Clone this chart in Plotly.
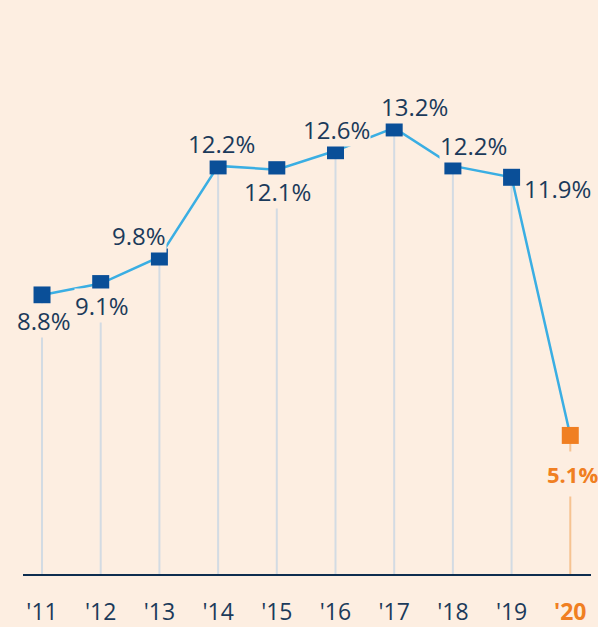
import plotly.graph_objects as go

years = [11, 12, 13, 14, 15, 16, 17, 18, 19, 20]
tick_labels = ["'11", "'12", "'13", "'14", "'15", "'16", "'17", "'18", "'19", "'20"]
values = [8.8, 9.1, 9.8, 12.2, 12.1, 12.6, 13.2, 12.2, 11.9, 5.1]
value_labels = ["8.8%", "9.1%", "9.8%", "12.2%", "12.1%", "12.6%", "13.2%", "12.2%", "11.9%", "5.1%"]
# label offsets (pixels) relative to each marker
label_dx = [2, 1, -20, 3, 1, 1, 20, 21, 46, 2]
label_dy = [-26, -22, 22, 22, -22, 21, 21, 20, -11, -39]

BG = "#fdeee1"
NAVY = "#1b3a5a"
MARK = "#0a4f98"
LINE = "#3aaee3"
ORANGE = "#f07f22"
DROP = "#d3dbe3"
DROP_OR = "#f6c391"
Y0 = 1.45

fig = go.Figure()

# drop lines
for i, (x, v) in enumerate(zip(years, values)):
    last = i == len(years) - 1
    fig.add_trace(go.Scatter(x=[x, x], y=[Y0, v], mode="lines",
                             line=dict(color=DROP_OR if last else DROP, width=2),
                             hoverinfo="skip", showlegend=False))

fig.add_trace(go.Scatter(
    x=years, y=values, mode="lines+markers",
    line=dict(color=LINE, width=2.5),
    marker=dict(symbol="square", size=17,
                color=[MARK] * (len(years) - 1) + [ORANGE]),
    showlegend=False, hoverinfo="skip"))

for i, (x, v, t) in enumerate(zip(years, values, value_labels)):
    last = i == len(years) - 1
    fig.add_annotation(
        x=x, y=v, xref="x", yref="y", text=("<b>%s</b>" % t) if last else t,
        showarrow=False, xshift=label_dx[i], yshift=label_dy[i],
        font=dict(family="Open Sans", size=24 if not last else 22,
                  color=ORANGE if last else NAVY),
        bgcolor=BG, borderpad=7 if last else 0)

ticktext = tick_labels[:-1] + ["<b><span style='color:%s'>%s</span></b>" % (ORANGE, tick_labels[-1])]

fig.update_layout(
    width=598, height=627,
    paper_bgcolor=BG, plot_bgcolor=BG,
    margin=dict(l=23, r=7, t=0, b=53),
    xaxis=dict(range=[10.676, 20.353], tickvals=years, ticktext=ticktext,
               showgrid=False, zeroline=False, showline=True,
               linecolor="#0d2d4f", linewidth=2, ticks="",
               ticklabelstandoff=16, automargin=False,
               tickfont=dict(family="Open Sans", size=23, color=NAVY),
               fixedrange=True),
    yaxis=dict(range=[Y0, 16.57], visible=False, fixedrange=True,
               automargin=False),
)

fig.write_html("out.html", config={"displayModeBar": False},
               post_script="document.body.style.margin='0';")
